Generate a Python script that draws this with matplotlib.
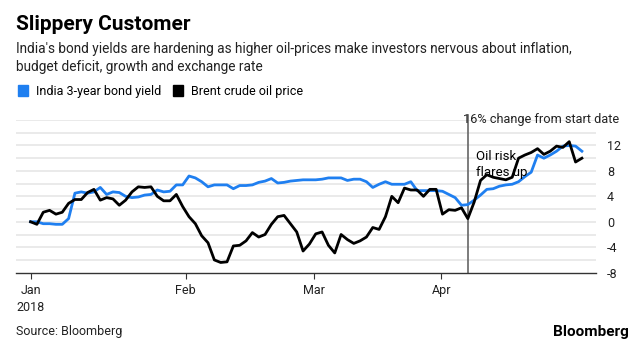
import matplotlib.pyplot as plt
from matplotlib.patches import Rectangle

plt.rcParams['font.family'] = ['Roboto', 'DejaVu Sans']

# % change from start date, one point per trading day (Jan 1 .. late Apr 2018)
bond_yield = [0, 0.0, -0.3, -0.3, -0.4, -0.4, 0.5, 4.5, 4.7, 4.5,
              4.7, 5.4, 4.3, 4.7, 4.6, 4.0, 3.8, 3.9, 4.2, 4.3,
              5.0, 4.7, 4.8, 5.8, 5.8, 7.2, 6.9, 6.3, 5.5, 5.8,
              5.8, 5.8, 5.2, 5.7, 5.7, 5.8, 6.2, 6.4, 6.8, 6.1,
              6.2, 6.4, 6.5, 6.6, 6.6, 6.6, 6.7, 6.9, 6.9, 6.9,
              6.5, 6.7, 6.7, 6.3, 5.4, 5.9, 6.3, 5.9, 5.9, 5.9,
              6.3, 4.9, 4.9, 4.9, 4.9, 4.8, 4.3, 3.8, 2.6, 2.7,
              3.4, 4.2, 5.1, 5.2, 5.6, 5.8, 5.9, 6.3, 7.1, 7.8,
              10.5, 10.0, 10.5, 11.1, 11.9, 12.0, 11.9, 11.1]
brent = [0, -0.4, 1.5, 1.8, 1.2, 1.5, 2.9, 3.5, 3.5, 4.6,
         5.1, 3.4, 3.8, 3.6, 2.6, 3.4, 4.7, 5.5, 5.4, 5.5,
         4.0, 3.3, 3.3, 4.3, 2.4, 0.8, -0.3, -2.2, -3.3, -6.0,
         -6.4, -6.3, -3.8, -3.7, -3.0, -1.7, -2.4, -2.0, -0.4, 0.8,
         1.0, -0.3, -1.6, -4.6, -3.5, -1.9, -1.6, -3.7, -4.9, -2.0,
         -2.8, -3.4, -3.0, -2.4, -0.9, -1.2, 0.8, 4.0, 3.0, 5.3,
         5.0, 5.0, 4.0, 5.1, 5.1, 1.2, 1.9, 1.8, 2.2, 0.5,
         3.1, 6.5, 7.4, 7.0, 6.8, 6.6, 7.0, 10.0, 10.5, 10.9,
         11.5, 10.6, 11.1, 11.9, 11.7, 12.6, 9.4, 10.0]

month_pos = [0, 24.5, 44.7, 64.8]
month_labels = ['Jan\n2018', 'Feb', 'Mar', 'Apr']
yticks = [12, 8, 4, 0, -4, -8]
event_day = 69

blue = '#1f7ff0'
x = list(range(len(brent)))

fig = plt.figure(figsize=(6.4, 3.5), dpi=100)
ax = fig.add_axes([0.025, 0.221, 0.906, 0.436])

for g in range(-6, 17, 2):
    ax.axhline(g, color='#e8e8e8', lw=1.3, zorder=0)

ax.plot(x, bond_yield, color=blue, lw=2, zorder=3)
ax.plot(x, brent, color='black', lw=2, zorder=4)
ax.axvline(event_day, ymin=0, ymax=1.03, color='#666666', lw=1.2, zorder=2, clip_on=False)
ax.text(event_day + 1.3, 11.3, 'Oil risk\nflares up', fontsize=9.5, va='top',
        ha='left', linespacing=1.3, zorder=5)

ax.set_xlim(-2.3, 89.2)
ax.set_ylim(-8, 16)
for s in ['top', 'right', 'left']:
    ax.spines[s].set_visible(False)
ax.spines['bottom'].set_color('#333333')
ax.spines['bottom'].set_linewidth(1)

ax.set_xticks(month_pos)
ax.set_xticklabels(month_labels, fontsize=9, linespacing=1.45, color='#222222')
ax.tick_params(axis='x', length=4, color='#333333', pad=4)
ax.yaxis.tick_right()
ax.set_yticks(yticks)
ax.set_yticklabels([str(v) for v in yticks], fontsize=9, color='#222222')
ax.tick_params(axis='y', length=0, pad=8)

fig.text(0.967, 1 - 120 / 350, '16% change from start date', fontsize=9.2,
         ha='right', va='center', color='#222222')

fig.text(0.025, 1 - 25 / 350, 'Slippery Customer', fontsize=15, fontweight='bold',
         va='center', ha='left')
fig.text(0.025, 1 - 58 / 350,
         "India's bond yields are hardening as higher oil-prices make investors nervous about inflation,\n"
         "budget deficit, growth and exchange rate",
         fontsize=9.8, va='center', ha='left', linespacing=1.4, color='#222222')

fig.patches.append(Rectangle((18 / 640, 1 - 96 / 350), 10 / 640, 11 / 350,
                             transform=fig.transFigure, color=blue))
fig.text(36 / 640, 1 - 91 / 350, 'India 3-year bond yield', fontsize=9, va='center')
fig.patches.append(Rectangle((173 / 640, 1 - 96 / 350), 10 / 640, 11 / 350,
                             transform=fig.transFigure, color='black'))
fig.text(191 / 640, 1 - 91 / 350, 'Brent crude oil price', fontsize=9, va='center')

fig.text(0.025, 1 - 332 / 350, 'Source: Bloomberg', fontsize=9, va='center', color='#222222')
fig.text(0.982, 1 - 332 / 350, 'Bloomberg', fontsize=11, fontweight='bold',
         va='center', ha='right')

fig.savefig('out.png', dpi=100, facecolor='white')
